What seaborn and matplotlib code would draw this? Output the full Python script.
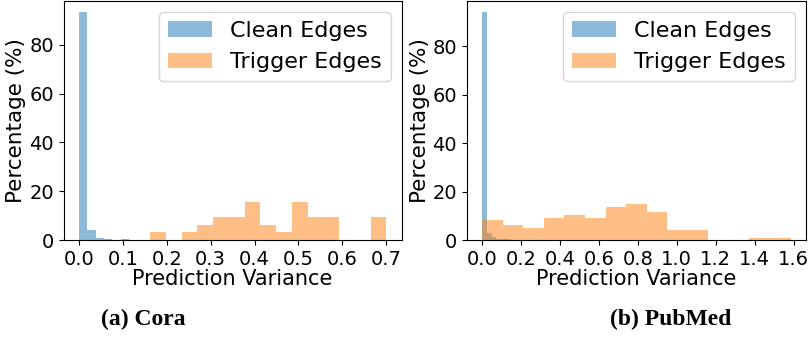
import numpy as np
import pandas as pd
import matplotlib
matplotlib.use("Agg")
import matplotlib.pyplot as plt
import seaborn as sns

# Cora: bin edges and percentage per bin
cora_clean_edges = np.linspace(0.0, 0.209, 12)
cora_clean_pct = [93.2, 4.1, 0.9, 0.4, 0.2, 0.5, 0.2, 0.2, 0.1, 0.0, 0.2]
cora_trig_edges = np.linspace(0.1625, 0.7, 16)
cora_trig_pct = [3.125, 0, 3.125, 6.25, 9.375, 9.375, 15.625, 6.25,
                 3.125, 15.625, 9.375, 9.375, 0, 0, 9.375]

# PubMed
pub_clean_edges = np.linspace(0.0, 0.24, 11)
pub_clean_pct = [94.0, 2.8, 1.4, 0.6, 0.4, 0.3, 0.2, 0.1, 0.1, 0.1]
pub_trig_edges = np.linspace(0.0, 1.585, 16)
pub_trig_pct = [8.2, 6.2, 5.1, 9.3, 10.3, 9.3, 13.7, 14.8, 11.6, 4.1,
                4.1, 0, 0, 0.7, 0.7]

panels = [
    ("(a) Cora", cora_clean_edges, cora_clean_pct, cora_trig_edges, cora_trig_pct,
     [0.0, 0.1, 0.2, 0.3, 0.4, 0.5, 0.6, 0.7], 0.177),
    ("(b) PubMed", pub_clean_edges, pub_clean_pct, pub_trig_edges, pub_trig_pct,
     [0.0, 0.2, 0.4, 0.6, 0.8, 1.0, 1.2, 1.4, 1.6], 0.829),
]

fig = plt.figure(figsize=(8.09, 3.41), dpi=100)
axes = [fig.add_axes([0.0785, 0.296, 0.418, 0.701]),
        fig.add_axes([0.577, 0.296, 0.4193, 0.701])]

for ax, (caption, ce, cp, te, tp, xt, cap_x) in zip(axes, panels):
    ce = np.asarray(ce)
    te = np.asarray(te)
    clean = pd.DataFrame({"v": (ce[:-1] + ce[1:]) / 2, "w": cp})
    trig = pd.DataFrame({"v": (te[:-1] + te[1:]) / 2, "w": tp})
    sns.histplot(data=clean, x="v", weights="w", bins=list(ce), color="C0", alpha=0.5,
                 linewidth=0, label="Clean Edges", ax=ax)
    sns.histplot(data=trig, x="v", weights="w", bins=list(te), color="C1", alpha=0.5,
                 linewidth=0, label="Trigger Edges", ax=ax)
    ax.set_xticks(xt)
    ax.set_yticks([0, 20, 40, 60, 80])
    ax.tick_params(labelsize=14)
    ax.set_xlabel("Prediction Variance", fontsize=15, labelpad=0)
    ax.set_ylabel("Percentage (%)", fontsize=15.5, labelpad=2)
    ax.legend(fontsize=16, loc="upper right")
    # caption under each panel
    fig.text(cap_x, 0.0645, caption, ha="center", va="center",
             fontsize=17, fontweight="bold", family="Liberation Serif")

fig.savefig("out.png", dpi=100)
